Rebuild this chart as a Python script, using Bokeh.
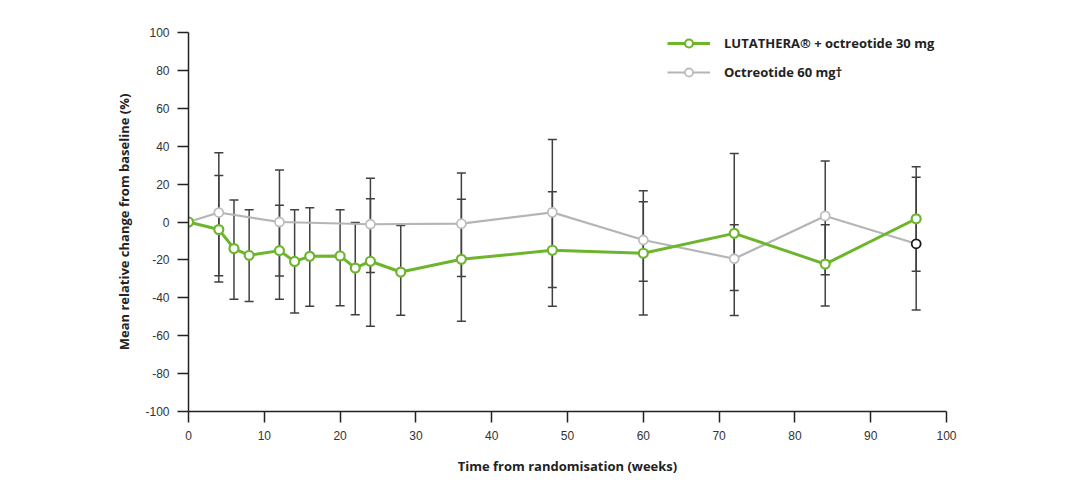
import math
from bokeh.plotting import figure
from bokeh.models import Range1d, FixedTicker, Legend, LegendItem
from bokeh.embed import file_html
from bokeh.resources import INLINE

nan = float("nan")

# LUTATHERA + octreotide 30 mg
weeks_lut = [0, 4, 6, 8, 12, 14, 16, 20, 22, 24, 28, 36, 48, 60, 72, 84, 96]
mean_lut = [0, -4, -14, -17.6, -15.1, -20.8, -18.1, -17.9, -24.3, -20.7, -26.4, -19.7, -14.9, -16.5, -6.0, -22.2, 1.7]
upper_lut = [nan, 24.6, 11.6, 6.5, 8.8, 6.5, 7.5, 6.5, -0.2, 12.3, -1.9, 12.0, 16.0, 16.5, 36.2, -1.4, 29.2]
lower_lut = [nan, -31.7, -40.8, -41.9, -40.8, -48.0, -44.5, -44.2, -49.0, -55.0, -49.2, -52.4, -44.5, -49.1, -49.3, -44.3, -26.0]

# Octreotide 60 mg
weeks_oct = [0, 4, 12, 24, 36, 48, 60, 72, 84, 96]
mean_oct = [0, 5, 0, -1.2, -0.9, 5.1, -9.5, -19.4, 3.2, -11.5]
upper_oct = [nan, 36.6, 27.4, 23.1, 25.9, 43.6, 10.7, -1.4, 32.2, 23.6]
lower_oct = [nan, -28.3, -28.5, -26.7, -28.8, -34.5, -31.3, -36.2, -27.8, -46.4]

x_ticks = [0, 10, 20, 30, 40, 50, 60, 70, 80, 90, 100]
y_ticks = [-100, -80, -60, -40, -20, 0, 20, 40, 60, 80, 100]

label_lut = "LUTATHERA\u00ae + octreotide 30 mg"
label_oct = "Octreotide 60 mg\u2020"
x_title = "Time from randomisation (weeks)"
y_title = "Mean relative change from baseline (%)"

GREEN = "#6cb52d"
GRAY = "#b5b5b5"
BAR = "#404040"
TEXT = "#222222"

p = figure(width=1064, height=477, output_backend="svg", toolbar_location=None,
           x_range=Range1d(0, 100), y_range=Range1d(-100, 100),
           min_border_left=188, min_border_right=118, min_border_top=32, min_border_bottom=66)
p.outline_line_color = None
p.grid.visible = False
p.background_fill_color = "white"
p.border_fill_color = "white"

def err_pairs(xs, up, lo):
    ex, eu, el = [], [], []
    for x, u, l in zip(xs, up, lo):
        if not (math.isnan(u) or math.isnan(l)):
            ex.append(x); eu.append(u); el.append(l)
    return ex, eu, el

for xs, up, lo in [(weeks_oct, upper_oct, lower_oct), (weeks_lut, upper_lut, lower_lut)]:
    ex, eu, el = err_pairs(xs, up, lo)
    p.segment(x0=ex, y0=el, x1=ex, y1=eu, line_color=BAR, line_width=1.5)
    p.scatter(x=ex, y=eu, marker="dash", size=9, line_color=BAR, line_width=1.5)
    p.scatter(x=ex, y=el, marker="dash", size=9, line_color=BAR, line_width=1.5)

r_line_oct = p.line(weeks_oct, mean_oct, line_color=GRAY, line_width=2.2)
r_line_lut = p.line(weeks_lut, mean_lut, line_color=GREEN, line_width=3)
# grey markers; the last one is drawn with a dark outline as in the source
r_pt_oct = p.scatter(weeks_oct[:-1], mean_oct[:-1], marker="circle", size=9, fill_color="white",
                     line_color="#bdbdbd", line_width=1.8)
p.scatter(weeks_oct[-1:], mean_oct[-1:], marker="circle", size=9, fill_color="white",
          line_color="#1a1a1a", line_width=1.8)
r_pt_lut = p.scatter(weeks_lut, mean_lut, marker="circle", size=9, fill_color="white",
                     line_color=GREEN, line_width=2.2)

legend = Legend(items=[LegendItem(label=label_lut, renderers=[r_line_lut, r_pt_lut]),
                       LegendItem(label=label_oct, renderers=[r_line_oct, r_pt_oct])],
                location=(479, 329), padding=0, margin=0, spacing=9,
                glyph_width=43, glyph_height=20, label_height=20, label_standoff=14,
                label_text_font="Open Sans", label_text_font_style="bold",
                label_text_font_size="13px", label_text_color=TEXT,
                border_line_color=None, background_fill_alpha=0)
p.add_layout(legend, "center")

for ax in (p.xaxis[0], p.yaxis[0]):
    ax.axis_line_color = TEXT
    ax.axis_line_width = 1.5
    ax.major_tick_line_color = TEXT
    ax.major_tick_line_width = 1.5
    ax.major_tick_out = 11
    ax.major_tick_in = 0
    ax.minor_tick_line_color = None
    ax.major_label_text_font = "Liberation Sans"
    ax.major_label_text_font_size = "12px"
    ax.major_label_text_color = "#333333"
    ax.major_label_standoff = 8
    ax.axis_label_text_font = "Open Sans"
    ax.axis_label_text_font_style = "bold"
    ax.axis_label_text_font_size = "13px"
    ax.axis_label_text_color = TEXT

p.xaxis[0].ticker = FixedTicker(ticks=x_ticks)
p.yaxis[0].ticker = FixedTicker(ticks=y_ticks)
p.xaxis[0].major_label_overrides = {t: str(t) for t in x_ticks}
p.yaxis[0].major_label_overrides = {t: str(t) for t in y_ticks}
p.xaxis[0].axis_label = x_title
p.yaxis[0].axis_label = y_title
p.xaxis[0].axis_label_standoff = 14
p.yaxis[0].axis_label_standoff = 9

open("out.html", "w").write(file_html(p, INLINE))
